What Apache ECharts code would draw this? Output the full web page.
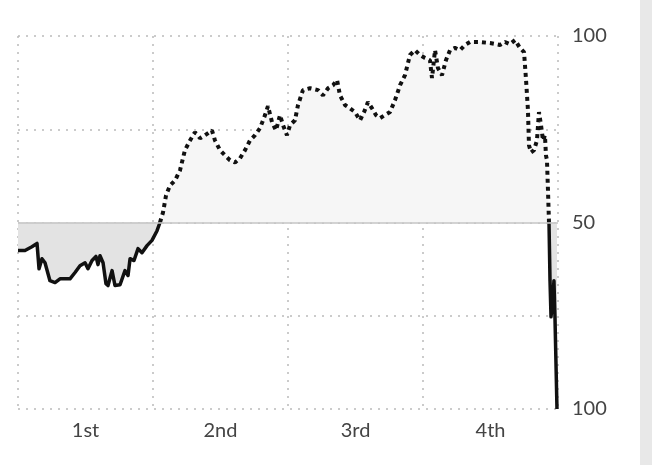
<!DOCTYPE html>
<html><head><meta charset="utf-8">
<script src="https://cdn.jsdelivr.net/npm/echarts@6/dist/echarts.min.js"></script>
<style>html,body{margin:0;padding:0;background:#fff}#c{width:652px;height:465px}</style>
</head><body><div id="c"></div>
<script>
const quarterLabels = ['1st','2nd','3rd','4th'];
const yTickLabels = {0:'100',50:'50',100:'100'};
// [minute, win probability %]
const solidStart = [[0,42.5],[0.62,42.5],[1.24,43.5],[1.69,44.4],[1.87,37.6],[2.13,40.3],[2.4,39.2],[2.84,34.4],[3.29,33.9],[3.73,34.9],[4.62,34.9],[5.07,36.6],[5.51,38.4],[5.96,39.2],[6.22,37.6],[6.58,39.8],[6.93,40.9],[7.11,38.7],[7.29,41.1],[7.56,39.2],[7.82,33.6],[8.0,33.1],[8.36,37.1],[8.62,33.1],[9.07,33.3],[9.51,37.1],[9.78,35.8],[9.96,40.3],[10.31,39.8],[10.67,43.0],[11.02,41.9],[11.47,43.8],[11.91,45.2],[12.36,47.8],[12.62,50]];
const dotted = [[12.62,50],[12.89,52.7],[13.16,57.3],[13.51,59.9],[13.96,61.3],[14.4,64.0],[14.84,69.4],[15.29,72.0],[15.73,74.2],[16.18,72.6],[16.62,73.4],[17.24,74.7],[17.51,72.0],[17.96,69.4],[18.4,68.0],[18.84,66.7],[19.29,66.1],[19.73,67.2],[20.18,69.4],[20.62,72.0],[21.07,73.4],[21.51,75.3],[21.96,78.8],[22.22,81.2],[22.58,76.9],[22.93,74.7],[23.29,78.8],[23.56,76.1],[23.91,73.4],[24.18,76.1],[24.62,77.4],[24.89,81.5],[25.33,85.5],[25.96,86.0],[26.67,85.5],[27.11,84.1],[27.56,86.0],[28.0,86.8],[28.36,88.2],[28.62,84.1],[29.07,81.5],[29.51,80.6],[29.96,79.6],[30.4,77.4],[30.76,79.6],[31.11,82.3],[31.47,80.6],[31.82,78.8],[32.18,78.0],[32.62,78.8],[33.07,79.6],[33.51,82.8],[33.96,86.8],[34.4,89.5],[34.84,94.9],[35.29,96.2],[35.73,94.9],[36.18,94.1],[36.62,93.5],[36.8,88.7],[37.07,96.2],[37.33,91.4],[37.69,89.5],[38.04,93.5],[38.4,96.2],[38.84,96.8],[39.29,96.2],[39.73,97.6],[40.18,98.4],[41.07,98.4],[41.96,98.1],[42.84,97.6],[43.29,98.4],[43.73,97.8],[44.18,98.9],[44.62,96.8],[44.98,95.7],[45.16,88.2],[45.33,80.1],[45.42,70.7],[45.6,68.8],[45.87,69.4],[46.13,72.0],[46.31,79.6],[46.49,76.1],[46.67,72.0],[46.84,73.4],[46.93,68.0],[47.02,66.7],[47.11,58.6],[47.2,50]];
const solidEnd = [[47.2,50],[47.29,34.4],[47.38,24.7],[47.56,30.4],[47.64,34.4],[47.73,24.7],[47.91,0]];

const chart = echarts.init(document.getElementById('c'));
const font = 'Lato, "Open Sans", sans-serif';
const solidLine = {color:'#111',width:3.5,join:'round'};
chart.setOption({
  animation:false,
  grid:{left:18,right:94,top:36,bottom:56},
  xAxis:[
    {type:'value',min:0,max:48,interval:12,axisLine:{show:false},axisTick:{show:false},axisLabel:{show:false},
     splitLine:{show:true,lineStyle:{color:'#bbb',type:[2,6],width:1.5}}},
    {type:'value',min:0,max:48,interval:6,position:'bottom',axisLine:{show:false},axisTick:{show:false},splitLine:{show:false},
     axisLabel:{margin:12,fontSize:20,color:'#444',fontFamily:font,
       formatter:v=> (v%12===6)? quarterLabels[(v-6)/12] : ''}}
  ],
  yAxis:{type:'value',min:0,max:100,interval:25,position:'right',axisLine:{show:false},axisTick:{show:false},
    axisLabel:{margin:14,fontSize:20,color:'#444',fontFamily:font,formatter:v=>yTickLabels[v]||''},
    splitLine:{show:true,lineStyle:{color:'#bbb',type:[2,6],width:1.5}}},
  graphic:[{type:'rect',shape:{x:640,y:0,width:12,height:465},style:{fill:'#e8e8e8'}}],
  series:[
    {type:'line',data:dotted,showSymbol:false,z:3,lineStyle:{color:'#111',width:4,type:[4,4],cap:'butt'},
     areaStyle:{origin:50,color:'#f6f6f6',opacity:1},
     markLine:{silent:true,symbol:'none',label:{show:false},lineStyle:{color:'#c4c4c4',type:'solid',width:1.5},data:[{yAxis:50}]}},
    {type:'line',data:solidStart,showSymbol:false,z:4,lineStyle:solidLine,areaStyle:{origin:50,color:'#e3e3e3',opacity:1}},
    {type:'line',data:solidEnd,showSymbol:false,z:4,lineStyle:solidLine,areaStyle:{origin:50,color:'#e3e3e3',opacity:1}}
  ]
});
</script></body></html>
